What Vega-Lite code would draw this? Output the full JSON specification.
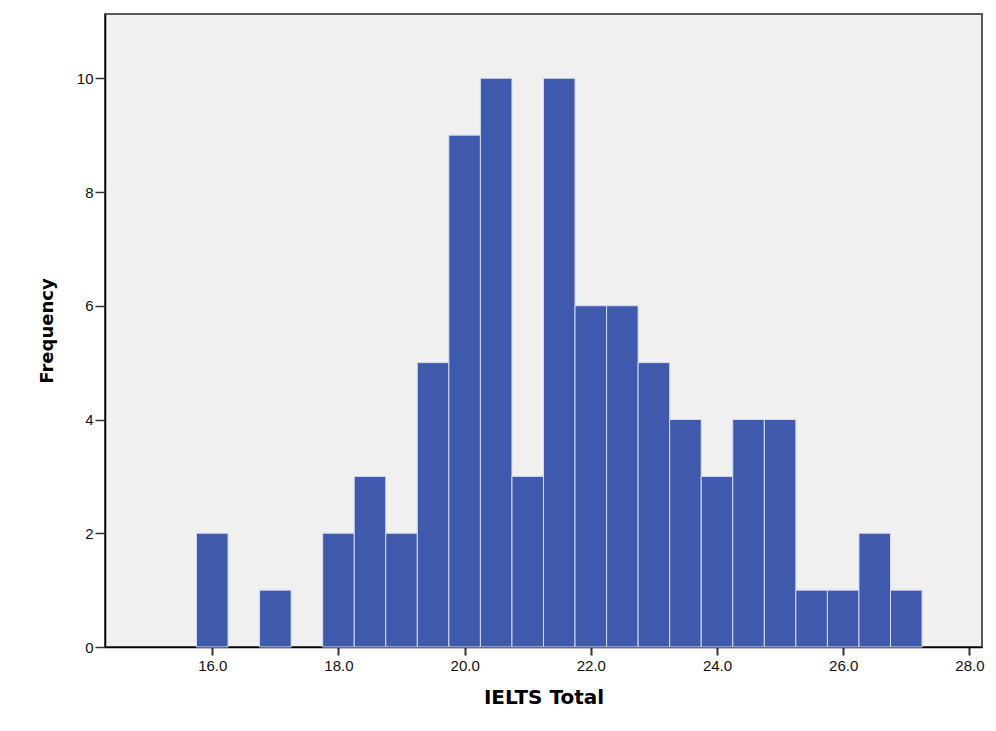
{
  "$schema": "https://vega.github.io/schema/vega-lite/v6.json",
  "autosize": "none",
  "width": 877,
  "height": 633,
  "padding": {"left": 105, "top": 14, "right": 14, "bottom": 84},
  "background": "white",
  "config": {
    "view": {"fill": "#F0F0F0", "stroke": "#5a5a5a", "strokeWidth": 2},
    "font": "Liberation Sans"
  },
  "data": {
    "values": [
      {"bin_start": 15.75, "bin_end": 16.25, "frequency": 2},
      {"bin_start": 16.75, "bin_end": 17.25, "frequency": 1},
      {"bin_start": 17.75, "bin_end": 18.25, "frequency": 2},
      {"bin_start": 18.25, "bin_end": 18.75, "frequency": 3},
      {"bin_start": 18.75, "bin_end": 19.25, "frequency": 2},
      {"bin_start": 19.25, "bin_end": 19.75, "frequency": 5},
      {"bin_start": 19.75, "bin_end": 20.25, "frequency": 9},
      {"bin_start": 20.25, "bin_end": 20.75, "frequency": 10},
      {"bin_start": 20.75, "bin_end": 21.25, "frequency": 3},
      {"bin_start": 21.25, "bin_end": 21.75, "frequency": 10},
      {"bin_start": 21.75, "bin_end": 22.25, "frequency": 6},
      {"bin_start": 22.25, "bin_end": 22.75, "frequency": 6},
      {"bin_start": 22.75, "bin_end": 23.25, "frequency": 5},
      {"bin_start": 23.25, "bin_end": 23.75, "frequency": 4},
      {"bin_start": 23.75, "bin_end": 24.25, "frequency": 3},
      {"bin_start": 24.25, "bin_end": 24.75, "frequency": 4},
      {"bin_start": 24.75, "bin_end": 25.25, "frequency": 4},
      {"bin_start": 25.25, "bin_end": 25.75, "frequency": 1},
      {"bin_start": 25.75, "bin_end": 26.25, "frequency": 1},
      {"bin_start": 26.25, "bin_end": 26.75, "frequency": 2},
      {"bin_start": 26.75, "bin_end": 27.25, "frequency": 1}
    ]
  },
  "mark": {"type": "rect", "fill": "#3F59AC", "stroke": "#D4DAF0", "strokeWidth": 1},
  "encoding": {
    "x": {
      "field": "bin_start",
      "type": "quantitative",
      "scale": {"domain": [14.3, 28.2], "nice": false, "zero": false},
      "axis": {
        "title": "IELTS Total",
        "values": [16, 18, 20, 22, 24, 26, 28],
        "format": ".1f",
        "grid": false,
        "domainColor": "#000000",
        "domainWidth": 1.5,
        "tickColor": "#333333",
        "tickWidth": 2,
        "tickSize": 8,
        "labelFontSize": 15,
        "labelColor": "#111111",
        "labelPadding": 3,
        "titleFont": "DejaVu Sans",
        "titleFontSize": 20,
        "titleFontWeight": "bold",
        "titleColor": "#000000",
        "titlePadding": 14
      }
    },
    "x2": {"field": "bin_end"},
    "y": {
      "field": "frequency",
      "type": "quantitative",
      "scale": {"domain": [0, 11.13], "nice": false},
      "axis": {
        "title": "Frequency",
        "values": [0, 2, 4, 6, 8, 10],
        "grid": false,
        "domainColor": "#000000",
        "domainWidth": 1.5,
        "tickColor": "#333333",
        "tickWidth": 1.5,
        "tickSize": 10,
        "labelFontSize": 15,
        "labelColor": "#111111",
        "labelPadding": 2,
        "titleFont": "DejaVu Sans",
        "titleFontSize": 18,
        "titleFontWeight": "bold",
        "titleColor": "#000000",
        "titlePadding": 20
      }
    },
    "y2": {"datum": 0}
  }
}
